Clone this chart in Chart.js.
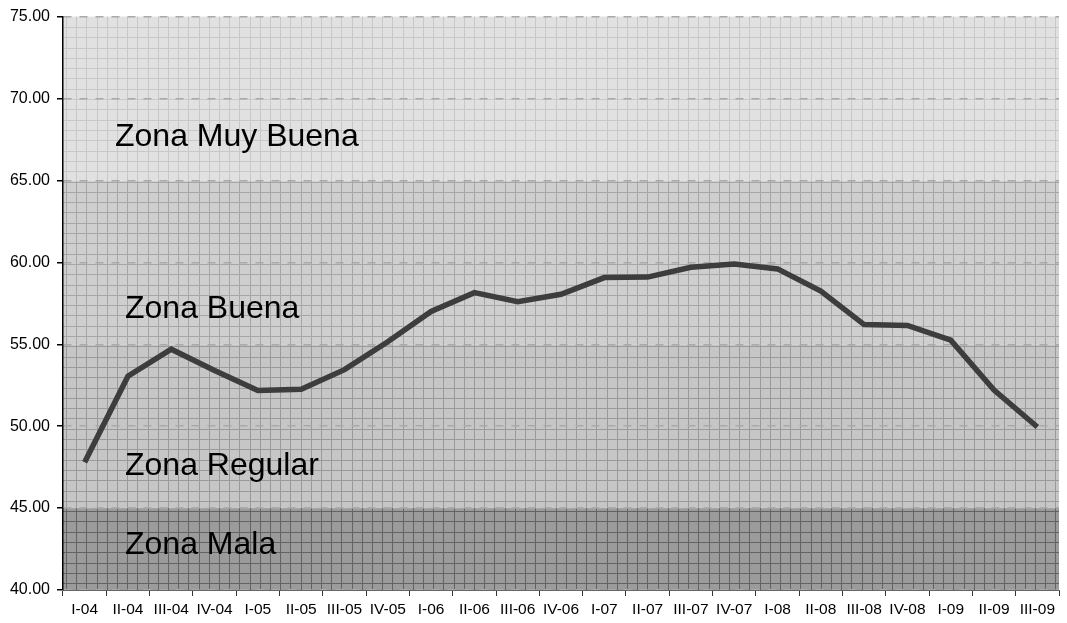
<!DOCTYPE html>
<html>
<head>
<meta charset="utf-8">
<script src="https://cdn.jsdelivr.net/npm/chart.js@4/dist/chart.umd.min.js"></script>
<style>
  html, body { margin: 0; padding: 0; background: #fff; }
  #wrap { width: 1067px; height: 623px; }
</style>
</head>
<body>
<div id="wrap"><canvas id="myChart" width="1067" height="623"></canvas></div>
<script>
let quarters = ['I-04','II-04','III-04','IV-04','I-05','II-05','III-05','IV-05','I-06','II-06','III-06','IV-06',
                'I-07','II-07','III-07','IV-07','I-08','II-08','III-08','IV-08','I-09','II-09','III-09'];
let indice = [47.8, 53.05, 54.7, 53.4, 52.18, 52.25, 53.45, 55.15, 57.0, 58.15, 57.6, 58.05,
              59.07, 59.1, 59.7, 59.9, 59.6, 58.25, 56.2, 56.15, 55.25, 52.2, 49.95];

// zonas: limites inferior/superior y nombre
let zone_names = ['Zona Mala', 'Zona Regular', 'Zona Buena', 'Zona Muy Buena'];
let zone_from  = [40, 45, 55, 65];
let zone_to    = [45, 55, 65, 75];

let zone_fill  = ['#9b9b9b', '#c6c6c6', '#cfcfcf', '#e1e1e1'];
let zone_grid  = ['#636363', '#9a9a9a', '#a6a6a6', '#c8c8c8'];
let zone_text  = [[62, 42.2], [62, 47.0], [62, 56.6], [52, 67.1]];

let zonesPlugin = {
  id: 'zones',
  beforeDraw(chart) {
    let c = chart.ctx, a = chart.chartArea, y = chart.scales.y;
    c.save();
    for (let i = 0; i < zone_from.length; i++) {
      let top = y.getPixelForValue(zone_to[i]);
      let bot = y.getPixelForValue(zone_from[i]);
      c.fillStyle = zone_fill[i];
      c.fillRect(a.left, top, a.right - a.left, bot - top);
      // cuadricula fina
      c.strokeStyle = zone_grid[i];
      c.lineWidth = 1;
      c.beginPath();
      for (let x = a.left + 3; x < a.right; x += 10.2) {
        c.moveTo(Math.round(x) + 0.5, top);
        c.lineTo(Math.round(x) + 0.5, bot);
      }
      for (let yy = a.top + 10.4; yy < a.bottom; yy += 10.3) {
        if (yy < top || yy > bot) continue;
        c.moveTo(a.left, Math.round(yy) + 0.5);
        c.lineTo(a.right, Math.round(yy) + 0.5);
      }
      c.stroke();
    }
    c.restore();
  },
  afterDatasetsDraw(chart) {
    let c = chart.ctx, a = chart.chartArea, y = chart.scales.y;
    c.save();
    c.fillStyle = '#000';
    c.font = '32px "Liberation Sans", Arial, sans-serif';
    c.textBaseline = 'alphabetic';
    for (let i = 0; i < zone_names.length; i++) {
      c.fillText(zone_names[i], a.left + zone_text[i][0], y.getPixelForValue(zone_text[i][1]));
    }
    c.restore();
  }
};

let ctx = document.getElementById('myChart').getContext('2d');
let myChart = new Chart(ctx, {
  type: 'line',
  data: {
    labels: quarters,
    datasets: [{
      data: indice,
      borderColor: '#3d3d3d',
      borderWidth: 5.5,
      pointRadius: 0,
      tension: 0,
      fill: false
    }]
  },
  plugins: [zonesPlugin],
  options: {
    responsive: false,
    animation: false,
    layout: { padding: { left: 0, top: 16, right: 8, bottom: 0 } },
    plugins: { legend: { display: false }, tooltip: { enabled: false } },
    scales: {
      x: {
        offset: true,
        afterFit(scale) { scale.height = 33; },
        grid: { offset: true, drawOnChartArea: false, drawTicks: true, tickLength: 6, color: '#333', tickColor: '#333' },
        border: { display: true, color: '#666', width: 1 },
        ticks: { color: '#000', font: { family: '"Liberation Sans", Arial, sans-serif', size: 15.5 }, maxRotation: 0, autoSkip: false, padding: 4 }
      },
      y: {
        min: 40, max: 75,
        afterFit(scale) { scale.width = 63; },
        grid: { color: '#a9a9a9', lineWidth: 1.5, tickColor: '#000', tickLength: 6, tickBorderDash: [0, 0], drawTicks: true },
        border: { display: true, color: '#000', width: 1.5, dash: [8, 8] },
        ticks: {
          stepSize: 5,
          color: '#000',
          padding: 7,
          font: { family: '"Liberation Sans", Arial, sans-serif', size: 16 },
          callback: v => v.toFixed(2)
        }
      }
    }
  }
});
</script>
</body>
</html>
